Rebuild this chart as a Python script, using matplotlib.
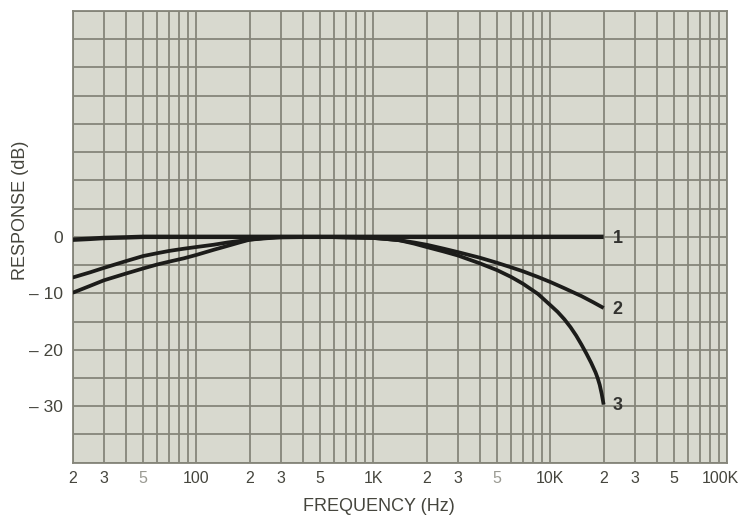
import matplotlib
matplotlib.use("Agg")
import matplotlib.pyplot as plt
import matplotlib.transforms as mtransforms
import numpy as np

# ---- data ----
curve1_freq = [20, 25, 30, 40, 50, 100, 1000, 10000, 20000]
curve1_db = [-0.5, -0.35, -0.2, -0.1, 0.0, 0.0, 0.0, 0.0, 0.0]

curve2_freq = [20, 25, 30, 40, 50, 60, 70, 85, 100, 125, 150, 200, 250, 300,
               500, 1000, 1200, 1400, 1700, 2000, 2500, 3000, 4000, 5000,
               6000, 7000, 8500, 10000, 12000, 15000, 17500, 20000]
curve2_db = [-7.2, -6.3, -5.5, -4.3, -3.4, -2.9, -2.5, -2.1, -1.8, -1.4, -1.0,
             -0.5, -0.25, -0.1, 0.0, -0.2, -0.4, -0.6, -1.0, -1.4, -2.1, -2.7,
             -3.7, -4.6, -5.4, -6.1, -7.1, -8.0, -9.1, -10.5, -11.6, -12.6]

curve3_freq = [20, 25, 30, 40, 50, 60, 70, 85, 100, 125, 150, 175, 200, 250,
               300, 500, 1000, 1200, 1400, 1700, 2000, 2500, 3000, 4000, 5000,
               6000, 7000, 8500, 10000, 11000, 12000, 13000, 14000, 15000,
               16000, 17000, 18000, 18500, 19000, 19500, 20000]
curve3_db = [-9.9, -8.7, -7.7, -6.5, -5.6, -4.9, -4.4, -3.8, -3.2, -2.3, -1.6,
             -1.0, -0.5, -0.15, 0.0, 0.0, -0.2, -0.4, -0.6, -1.2, -1.8, -2.6,
             -3.3, -4.7, -5.9, -7.1, -8.3, -10.1, -12.1, -13.3, -14.6, -16.0,
             -17.5, -19.1, -20.7, -22.3, -24.0, -25.0, -26.2, -27.8, -29.7]

curve_labels = ["1", "2", "3"]

xtick_vals = [20, 30, 50, 100, 200, 300, 500, 1000, 2000, 3000, 5000,
              10000, 20000, 30000, 50000, 100000]
xtick_labels = ["2", "3", "5", "100", "2", "3", "5", "1K", "2", "3", "5",
                "10K", "2", "3", "5", "100K"]
ytick_vals = [0, -10, -20, -30]
ytick_labels = ["0", "\u2013 10", "\u2013 20", "\u2013 30"]

# ---- figure ----
plt.rcParams['font.family'] = ['Liberation Sans', 'DejaVu Sans']
fig = plt.figure(figsize=(7.44, 5.16), dpi=100)
fig.patch.set_facecolor('white')
ax = fig.add_axes([0.0977, 0.1033, 0.8799, 0.8754])
ax.set_facecolor('#d8d9cf')

ax.set_xscale('log')
ax.set_xlim(20, 100000)
ax.set_ylim(-40, 40)

grid_color = '#85857a'
minor_x = []
for dec in [10, 100, 1000, 10000]:
    for m in range(1, 10):
        v = m * dec
        if 20 <= v <= 100000:
            minor_x.append(v)
minor_x.append(100000)
ax.set_xticks(minor_x, minor=True)
ax.set_xticks(xtick_vals)
ax.set_xticklabels(xtick_labels)
ax.xaxis.set_minor_formatter(matplotlib.ticker.NullFormatter())

ax.set_yticks(np.arange(-40, 41, 5), minor=True)
ax.set_yticks(ytick_vals)
ax.set_yticklabels(ytick_labels)

ax.grid(True, which='both', color=grid_color, linewidth=1.3)
ax.set_axisbelow(True)
ax.tick_params(which='both', length=0)
ax.tick_params(axis='x', pad=6, labelsize=11.5, labelcolor='#45453d')
ax.tick_params(axis='y', pad=7, labelsize=12.5, labelcolor='#45453d')

xlabs = ax.get_xticklabels()
for i, lab in enumerate(xlabs):
    if i in (2, 10):
        lab.set_color('#9a9a92')
# keep the last label inside the canvas
last = xlabs[-1]
last.set_transform(last.get_transform() +
                   mtransforms.ScaledTranslation(-5 / 72, 0, fig.dpi_scale_trans))

for s in ax.spines.values():
    s.set_color(grid_color)
    s.set_linewidth(1.3)

line_color = '#1c1c1a'
ax.plot(curve1_freq, curve1_db, color=line_color, linewidth=3.2,
        solid_capstyle='butt', solid_joinstyle='round', zorder=3)
ax.plot(curve2_freq, curve2_db, color=line_color, linewidth=2.7,
        solid_capstyle='butt', solid_joinstyle='round', zorder=3)
ax.plot(curve3_freq, curve3_db, color=line_color, linewidth=2.7,
        solid_capstyle='butt', solid_joinstyle='round', zorder=3)

for lab, fx, fy in zip(curve_labels,
                       [curve1_freq[-1], curve2_freq[-1], curve3_freq[-1]],
                       [curve1_db[-1], curve2_db[-1], curve3_db[-1]]):
    ax.annotate(lab, xy=(fx, fy), xytext=(10, -1), textcoords='offset points',
                ha='center', va='center', fontsize=13, fontweight='bold',
                color='#333330', zorder=4)

ax.set_xlabel('FREQUENCY (Hz)', fontsize=13, color='#45453d')
ax.xaxis.set_label_coords(0.468, -0.079)
ax.set_ylabel('RESPONSE (dB)', fontsize=13, color='#45453d')
ax.yaxis.set_label_coords(-0.066, 0.559)

fig.savefig('out.png', dpi=100, facecolor='white')
